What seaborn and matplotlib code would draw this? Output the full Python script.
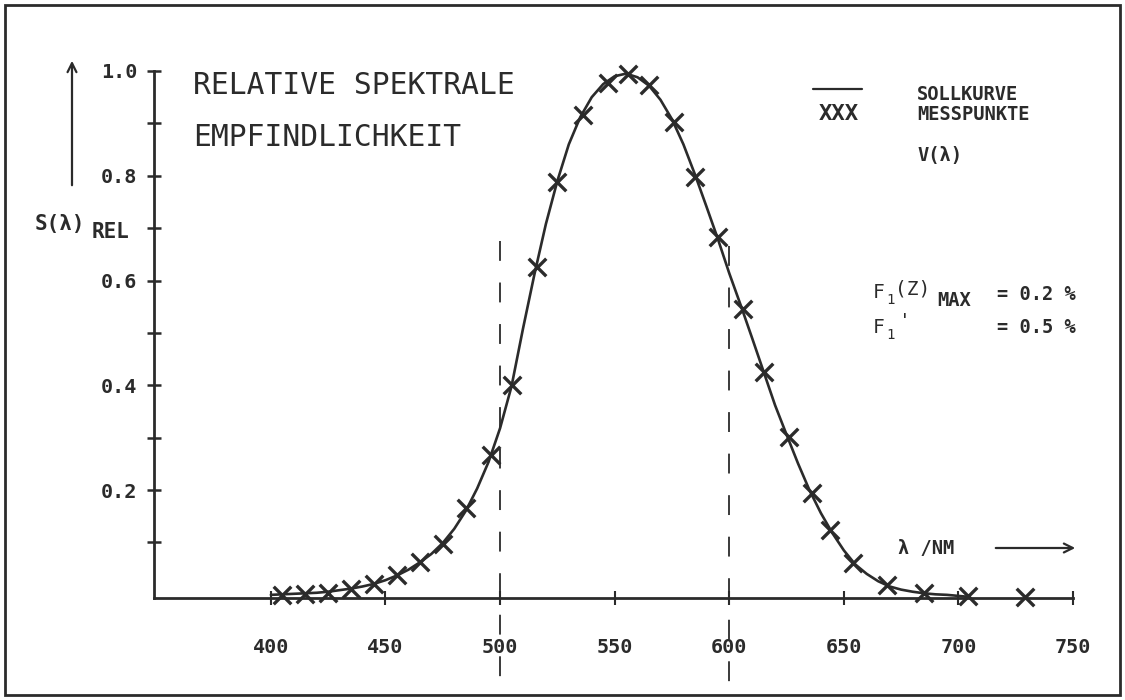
import matplotlib
matplotlib.use("Agg")
import matplotlib.pyplot as plt
import seaborn as sns
import numpy as np
import pandas as pd
from matplotlib.patches import Rectangle

# ---------------- data ----------------
curve_nm = [400, 405, 410, 415, 420, 425, 430, 435, 440, 445, 450, 455, 460, 465, 470,
            475, 480, 485, 490, 495, 500, 505, 510, 515, 520, 525, 530, 535, 540, 545,
            550, 555, 560, 565, 570, 575, 580, 585, 590, 595, 600, 605, 610, 615, 620,
            625, 630, 635, 640, 645, 650, 655, 660, 665, 670, 675, 680, 685, 690, 695,
            700, 705]
curve_val = [0.000, 0.001, 0.002, 0.003, 0.004, 0.006, 0.009, 0.012, 0.016, 0.021, 0.028,
             0.037, 0.048, 0.062, 0.078, 0.099, 0.126, 0.160, 0.203, 0.254, 0.318, 0.398,
             0.508, 0.612, 0.708, 0.790, 0.860, 0.912, 0.950, 0.975, 0.990, 0.995, 0.988,
             0.972, 0.945, 0.908, 0.860, 0.803, 0.742, 0.680, 0.614, 0.553, 0.490, 0.426,
             0.362, 0.306, 0.251, 0.200, 0.156, 0.118, 0.085, 0.058, 0.040, 0.026, 0.016,
             0.010, 0.006, 0.003, 0.001, 0.000, -0.002, -0.004]

meas_nm = [405, 415, 425, 435, 445, 455, 465, 475, 485, 496, 505, 516, 525, 536, 547,
           556, 565, 576, 585, 595, 606, 615, 626, 636, 644, 654, 669, 685, 704, 729]
meas_val = [0.000, 0.001, 0.004, 0.011, 0.021, 0.038, 0.063, 0.098, 0.165, 0.267, 0.401,
            0.626, 0.789, 0.916, 0.977, 0.994, 0.973, 0.903, 0.798, 0.684, 0.545, 0.426,
            0.301, 0.195, 0.123, 0.060, 0.018, 0.003, -0.003, -0.004]

x_ticks = [400, 450, 500, 550, 600, 650, 700, 750]
x_tick_labels = ["400", "450", "500", "550", "600", "650", "700", "750"]
y_ticks = [0.2, 0.4, 0.6, 0.8, 1.0]
y_tick_labels = ["0.2", "0.4", "0.6", "0.8", "1.0"]
y_minor = [0.1, 0.3, 0.5, 0.7, 0.9]
limit_lines = [500, 600]
limit_tops = [0.675, 0.665]

# ---------------- style ----------------
sns.set_style("white")
plt.rcParams['font.family'] = ['DejaVu Sans Mono', 'DejaVu Sans']
INK = "#2b2b2b"

W, H = 1125, 700
fig = plt.figure(figsize=(W / 100, H / 100), dpi=100)
ax = fig.add_axes([154 / W, 1 - 598 / H, (1073 - 154) / W, (598 - 71) / H])

curve_df = pd.DataFrame({"nm": curve_nm, "s": curve_val})
meas_df = pd.DataFrame({"nm": meas_nm, "s": meas_val})

sns.lineplot(data=curve_df, x="nm", y="s", color=INK, lw=1.9, ax=ax, zorder=3)
sns.scatterplot(data=meas_df, x="nm", y="s", marker="x", s=160, color=INK,
                linewidth=2.4, ax=ax, zorder=4, clip_on=False)

ax.set_xlim(349, 750)
ax.set_ylim(-0.006, 1.0)

# dashed limit lines (drawn top-down, extending below the axis to the frame)
for xl, yt in zip(limit_lines, limit_tops):
    ax.plot([xl, xl], [yt, -0.191], color=INK, lw=1.3, dashes=(11, 12),
            clip_on=False, zorder=2)

for s in ["top", "right"]:
    ax.spines[s].set_visible(False)
for s in ["left", "bottom"]:
    ax.spines[s].set_color(INK)
    ax.spines[s].set_linewidth(2.0)

ax.set_xticks(x_ticks)
ax.set_xticklabels(x_tick_labels)
ax.set_yticks(y_ticks)
ax.set_yticklabels(y_tick_labels)
ax.set_yticks(y_minor, minor=True)
ax.tick_params(axis="y", which="both", direction="inout", length=10, width=1.8,
               color=INK, left=True)
ax.tick_params(axis="y", which="major", pad=7, labelsize=14.5, labelcolor=INK)
ax.tick_params(axis="x", which="major", direction="inout", length=10, width=1.5,
               color=INK, pad=24, labelsize=14.5, labelcolor=INK, bottom=True)
for lab in ax.get_xticklabels() + ax.get_yticklabels():
    lab.set_fontweight("bold")
ax.set_xlabel("")
ax.set_ylabel("")
ax.grid(False)


def fy(y):
    return H - y


# titles
fig.text(193 / W, fy(85) / H, "RELATIVE SPEKTRALE", fontsize=21.3, color=INK,
         ha="left", va="center")
fig.text(193 / W, fy(138) / H, "EMPFINDLICHKEIT", fontsize=21.3, color=INK,
         ha="left", va="center")

# legend (hand-drawn like the plotter)
fig.add_artist(plt.Line2D([813 / W, 862 / W], [fy(89) / H, fy(89) / H], color=INK, lw=1.6))
fig.text(839 / W, fy(114) / H, "XXX", fontsize=16, color=INK, fontweight="bold",
         ha="center", va="center")
fig.text(917 / W, fy(95) / H, "SOLLKURVE", fontsize=13.5, color=INK, fontweight="bold",
         ha="left", va="center")
fig.text(917 / W, fy(115) / H, "MESSPUNKTE", fontsize=13.5, color=INK, fontweight="bold",
         ha="left", va="center")
fig.text(917 / W, fy(156) / H, "V(λ)", fontsize=13.5, color=INK, fontweight="bold",
         ha="left", va="center")

# F1 annotations
fig.text(873 / W, fy(293) / H, "F", fontsize=14, color=INK, ha="left", va="center")
fig.text(886 / W, fy(300) / H, "1", fontsize=10, color=INK, ha="left", va="center")
fig.text(895 / W, fy(289) / H, "(Z)", fontsize=14, color=INK, ha="left", va="center")
fig.text(937 / W, fy(300) / H, "MAX", fontsize=13.5, color=INK, fontweight="bold",
         ha="left", va="center")
fig.text(997 / W, fy(294) / H, "= 0.2 %", fontsize=13.5, color=INK, fontweight="bold",
         ha="left", va="center")
fig.text(873 / W, fy(328) / H, "F", fontsize=14, color=INK, ha="left", va="center")
fig.text(886 / W, fy(335) / H, "1", fontsize=10, color=INK, ha="left", va="center")
fig.text(899 / W, fy(322) / H, "'", fontsize=14, color=INK, ha="left", va="center")
fig.text(997 / W, fy(328) / H, "= 0.5 %", fontsize=13.5, color=INK, fontweight="bold",
         ha="left", va="center")

# axis labels with arrows
fig.text(898 / W, fy(548) / H, "λ /NM", fontsize=13.5, color=INK, fontweight="bold",
         ha="left", va="center")
ax.annotate("", xy=(1078, fy(548)), xytext=(993, fy(548)),
            xycoords="figure pixels", textcoords="figure pixels",
            arrowprops=dict(arrowstyle="->", color=INK, lw=1.6, mutation_scale=16))
ax.annotate("", xy=(72, fy(58)), xytext=(72, fy(188)),
            xycoords="figure pixels", textcoords="figure pixels",
            arrowprops=dict(arrowstyle="->", color=INK, lw=1.6, mutation_scale=16))
fig.text(35 / W, fy(224) / H, "S(λ)", fontsize=15, color=INK, fontweight="bold",
         ha="left", va="center")
fig.text(92 / W, fy(232) / H, "REL", fontsize=15, color=INK, fontweight="bold",
         ha="left", va="center")

# page frame
fig.patches.append(Rectangle((5 / W, 5 / H), 1115 / W, 690 / H, transform=fig.transFigure,
                             fill=False, lw=2.0, edgecolor=INK))

fig.savefig("out.png", dpi=100, facecolor="white")
